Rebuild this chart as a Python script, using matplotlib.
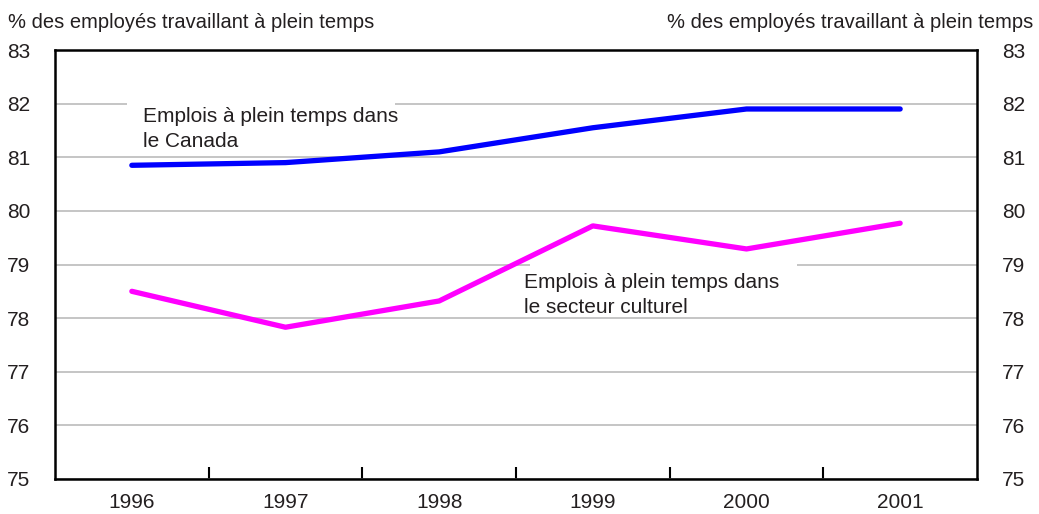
import matplotlib
matplotlib.use("Agg")
import matplotlib.pyplot as plt
from matplotlib import font_manager
from matplotlib.patches import Rectangle

years = ["1996", "1997", "1998", "1999", "2000", "2001"]
canada = [80.85, 80.9, 81.1, 81.55, 81.9, 81.9]
culture = [78.5, 77.83, 78.32, 79.72, 79.29, 79.77]
yticks = list(range(75, 84))

names = {f.name for f in font_manager.fontManager.ttflist}
family = "Liberation Sans Narrow" if "Liberation Sans Narrow" in names else "Liberation Sans"
plt.rcParams["font.family"] = [family, "DejaVu Sans"]
text_color = "#231f20"

fig = plt.figure(figsize=(10.39, 5.14), dpi=100)
ax = fig.add_axes([55 / 1039, 1 - 479 / 514, 922 / 1039, 429 / 514])

x = list(range(len(years)))
ax.plot(x, canada, color="#0000ff", lw=3.8, solid_capstyle="round", zorder=3)
ax.plot(x, culture, color="#ff00ff", lw=3.8, solid_capstyle="round", zorder=3)

ax.set_xlim(-0.5, len(years) - 0.5)
ax.set_ylim(75, 83)
ax.set_yticks(yticks)
ax.yaxis.grid(True, color="#bbbbbb", lw=1.2)
ax.set_axisbelow(True)
ax.tick_params(axis="y", length=0, labelsize=15, colors=text_color, pad=18,
               labelright=True)
ax.set_xticks(x)
ax.set_xticklabels(years)
ax.set_xticks([i + 0.5 for i in x[:-1]], minor=True)
ax.tick_params(axis="x", which="major", length=0, labelsize=15, colors=text_color, pad=10)
ax.tick_params(axis="x", which="minor", direction="in", length=9, width=1.5, color="black")
for s in ax.spines.values():
    s.set_linewidth(1.8)

# white label boxes that break the gridlines behind the labels
ax.add_patch(Rectangle((-0.03, 81.3), 1.74, 0.8, facecolor="white", edgecolor="none", zorder=1))
ax.add_patch(Rectangle((2.59, 78.2), 1.74, 0.9, facecolor="white", edgecolor="none", zorder=1))

ax.text(0.07, 81.93, "Emplois à plein temps dans\nle Canada", fontsize=15,
        color=text_color, va="top", ha="left", linespacing=1.4, zorder=2)
ax.text(2.55, 78.84, "Emplois à plein temps dans\nle secteur culturel", fontsize=15,
        color=text_color, va="top", ha="left", linespacing=1.4, zorder=2)

fig.text(8 / 1039, 1 - 22 / 514, "% des employés travaillant à plein temps",
         fontsize=14.5, color=text_color, ha="left", va="center")
fig.text(1033 / 1039, 1 - 22 / 514, "% des employés travaillant à plein temps",
         fontsize=14.5, color=text_color, ha="right", va="center")

fig.savefig("out.png", dpi=100)
